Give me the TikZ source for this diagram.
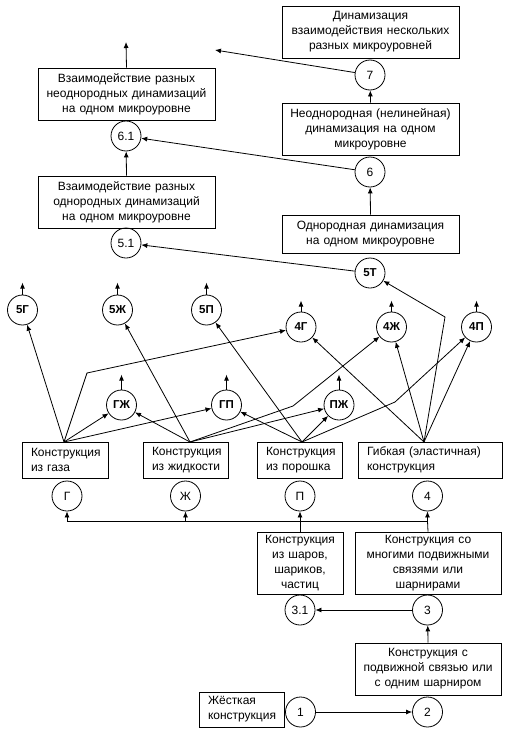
\documentclass[tikz,border=0pt]{standalone}
\usepackage{fontspec}
\setmainfont{Liberation Sans}
\usetikzlibrary{arrows.meta,calc}
\begin{document}
\begin{tikzpicture}[x=1pt,y=-1pt, line width=0.8pt,
 every node/.style={font=\fontsize{12}{15}\selectfont},
 bx/.style={draw, inner xsep=4pt, inner ysep=0pt, text width=#1, align=center},
 lbx/.style={draw, inner xsep=9pt, inner ysep=0pt, text width=#1, align=left},
 cir/.style={draw, circle, minimum size=30pt, inner sep=0pt},
 bcir/.style={cir, font=\fontsize{11.5}{15}\selectfont\bfseries},
 arr/.style={-{Latex[length=6pt,width=5pt]}}]
\useasboundingbox (0,0) rectangle (508,736);

% boxes
\node[bx=169pt, minimum height=52pt] (t7) at (370.5,32) {Динамизация\\\mbox{взаимодействия нескольких}\\\mbox{разных микроуровней}};
\node[bx=169pt, minimum height=52pt] (t6) at (370.5,129) {\mbox{Неоднородная (нелинейная)}\\\mbox{динамизация на одном}\\микроуровне};
\node[bx=169pt, minimum height=38pt] (t5) at (370.5,234) {\mbox{Однородная динамизация}\\\mbox{на одном микроуровне}};
\node[bx=169pt, minimum height=52pt] (v61) at (126.5,94) {\mbox{Взаимодействие разных}\\\mbox{неоднородных динамизаций}\\\mbox{на одном микроуровне}};
\node[bx=169pt, minimum height=52pt] (v51) at (126.5,202) {\mbox{Взаимодействие разных}\\\mbox{однородных динамизаций}\\\mbox{на одном микроуровне}};
\node[lbx=68pt, minimum height=36pt] (gaz) at (65,460) {Конструкция\\\mbox{из газа}};
\node[lbx=67pt, minimum height=36pt] (zhid) at (185.5,460) {Конструкция\\\mbox{из жидкости}};
\node[lbx=67pt, minimum height=36pt] (por) at (299.5,460) {Конструкция\\\mbox{из порошка}};
\node[lbx=126pt, minimum height=36pt] (gib) at (430,460) {\mbox{Гибкая (эластичная)}\\конструкция};
\node[bx=78pt, minimum height=62pt] (shar) at (300,563) {Конструкция\\\mbox{из шаров,}\\шариков,\\частиц};
\node[bx=138pt, minimum height=62pt] (mnog) at (428,563) {\mbox{Конструкция со}\\\mbox{многими подвижными}\\\mbox{связями или}\\шарнирами};
\node[bx=138pt, minimum height=52pt] (podv) at (428,669) {\mbox{Конструкция с}\\\mbox{подвижной связью или}\\\mbox{с одним шарниром}};
\node[lbx=67pt, minimum height=35pt] (zhest) at (241.5,709.5) {Жёсткая\\конструкция};

% circles
\node[cir] (c7) at (370,75) {7};
\node[cir] (c61) at (126,136) {6.1};
\node[cir] (c6) at (370,172) {6};
\node[cir] (c51) at (126,243) {5.1};
\node[bcir] (c5T) at (370,273) {5Т};
\node[bcir] (c5G) at (22.5,310) {5Г};
\node[bcir] (c5Zh) at (117.5,310) {5Ж};
\node[bcir] (c5P) at (206.5,310) {5П};
\node[bcir] (c4G) at (301,327) {4Г};
\node[bcir] (c4Zh) at (391.5,327) {4Ж};
\node[bcir] (c4P) at (476.5,327) {4П};
\node[bcir] (cGZh) at (121.5,405) {ГЖ};
\node[bcir] (cGP) at (226.5,405) {ГП};
\node[bcir] (cPZh) at (339,405) {ПЖ};
\node[cir] (cG) at (67,496) {Г};
\node[cir] (cZh) at (185.5,496) {Ж};
\node[cir] (cP) at (300,496) {П};
\node[cir] (c4) at (427.5,496) {4};
\node[cir] (c31) at (300,610) {3.1};
\node[cir] (c3) at (427.5,610) {3};
\node[cir] (c1) at (300.5,712) {1};
\node[cir] (c2) at (427.5,712) {2};

% coordinates
\coordinate (e7) at (215,50);
\coordinate (e61) at (126,42);
\coordinate (gT) at (64,442);
\coordinate (zT) at (190,442);
\coordinate (pT) at (302,442);
\coordinate (fT) at (424,442);
\coordinate (b1) at (87,373);
\coordinate (b2) at (293,406);
\coordinate (b3) at (395,402);
\coordinate (b4) at (445,317);
\coordinate (jG) at (67,521);
\coordinate (jZh) at (185.5,521);
\coordinate (jP) at (300,521);
\coordinate (j4) at (427.5,521);

% upper part
\draw[arr] (c7) -- (e7);
\draw[arr] (v61.north) -- (e61);
\draw[arr] (t6.north) -- (c7);
\draw[arr] (c6) -- (c61);
\draw[arr] (v51.north) -- (c61);
\draw[arr] (t5.north) -- (c6);
\draw[arr] (c5T) -- (c51);

% small up arrows
\foreach \n in {c5G,c5Zh,c5P} \draw[arr] (\n.north) -- ++(0,-12);
\foreach \n in {c4G,c4Zh,c4P} \draw[arr] (\n.north) -- ++(0,-11);
\foreach \n in {cGZh,cGP,cPZh} \draw[arr] (\n.north) -- ++(0,-15);

% middle web
\draw[arr] (gT) -- (c5G);
\draw[arr] (gT) -- (b1) -- (c4G);
\draw[arr] (gT) -- (cGZh);
\draw[arr] (gT) -- (cGP);
\draw[arr] (zT) -- (c5Zh);
\draw[arr] (zT) -- (cGZh);
\draw[arr] (zT) -- (cPZh);
\draw[arr] (zT) -- (b2) -- (c4Zh);
\draw[arr] (pT) -- (c5P);
\draw[arr] (pT) -- (cGP);
\draw[arr] (pT) -- (cPZh);
\draw[arr] (pT) -- (b3) -- (c4P);
\draw[arr] (fT) -- (c4G);
\draw[arr] (fT) -- (c4Zh);
\draw[arr] (fT) -- (b4) -- (c5T);
\draw[arr] (fT) -- (c4P);

% lower part
\draw (jG) -- (j4);
\draw[arr] (jG) -- (cG);
\draw[arr] (jZh) -- (cZh);
\draw[arr] (jP) -- (cP);
\draw[arr] (j4) -- (c4);
\draw (shar.north) -- (jP);
\draw (mnog.north) -- (j4);
\draw[arr] (c3) -- (c31);
\draw[arr] (podv.north) -- (c3);
\draw[arr] (c1) -- (c2);
\end{tikzpicture}
\end{document}
